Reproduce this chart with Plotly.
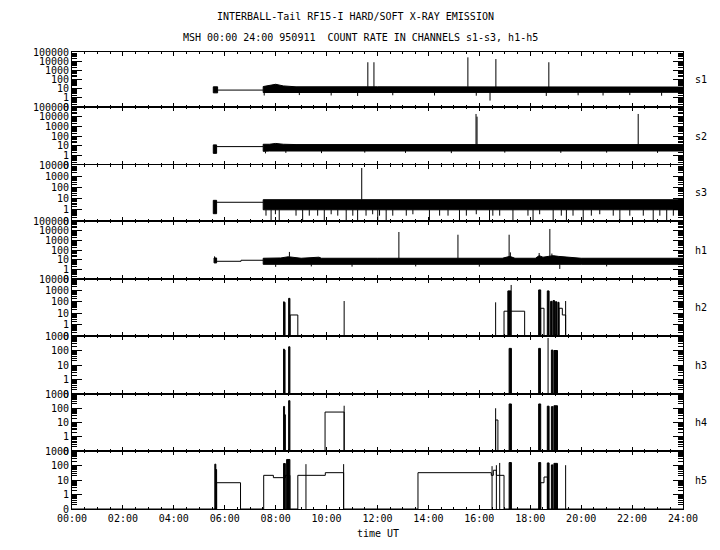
import math
import plotly.graph_objects as go
from plotly.subplots import make_subplots

FONT = "DejaVu Sans Mono"
ZERO = 0.1  # value drawn at the "0" tick

HOUR_TICKS = list(range(0, 25, 2))
HOUR_LABELS = [f"{h:02d}:00" for h in HOUR_TICKS]
CHANNELS = ["s1", "s2", "s3", "h1", "h2", "h3", "h4", "h5"]
YTOP = [100000, 100000, 10000, 100000, 10000, 1000, 1000, 1000]
ROW_HEIGHTS = [55, 58, 56, 58, 57, 58, 57, 58]

# ---------------- soft channels + h1 : noisy count rate ----------------
# s1
s1_block_t = [5.55, 5.72]
s1_block_v = [3.5, 16]
s1_gap_t = [5.72, 7.51]
s1_gap_v = [7, 7]
s1_band_t = [7.51, 7.75, 8.0, 8.3, 8.8, 12.0, 16.0, 20.0, 24.0]
s1_band_hi = [17, 22, 30, 20, 16, 16, 15, 16, 15]
s1_band_lo = [3.8, 3.6, 4.0, 3.9, 4.0, 4.0, 4.2, 4.0, 4.0]
s1_spike_t = [11.62, 11.86, 15.55, 16.65, 18.73]
s1_spike_v = [7600, 7600, 26000, 17000, 7600]
s1_dip_t = [7.55, 8.93, 10.18, 11.22, 12.60, 14.24, 15.88, 16.42, 18.63, 19.88, 20.86, 21.91, 23.16]
s1_dip_v = [1.8, 2.0, 1.8, 1.6, 1.9, 1.8, 1.7, 0.5, 1.6, 1.9, 1.8, 2.0, 1.7]

# s2
s2_block_t = [5.55, 5.68]
s2_block_v = [1.6, 12]
s2_gap_t = [5.68, 7.51]
s2_gap_v = [8, 8]
s2_band_t = [7.51, 7.75, 8.0, 8.3, 8.8, 12.0, 16.0, 20.0, 24.0]
s2_band_hi = [14, 14, 17, 14, 13, 13, 13, 13, 13]
s2_band_lo = [2.6, 2.8, 2.8, 2.8, 2.8, 2.9, 2.8, 2.9, 2.8]
s2_spike_t = [15.87, 15.91, 22.24]
s2_spike_v = [19000, 10000, 19000]
s2_dip_t = [7.6, 8.4, 9.8, 11.5, 13.1, 14.9, 17.0, 19.2, 21.0, 23.0]
s2_dip_v = [1.6, 1.8, 1.7, 1.9, 1.8, 1.7, 1.9, 1.8, 1.9, 1.8]

# s3
s3_block_t = [5.55, 5.68]
s3_block_v = [0.45, 7]
s3_gap_t = [5.68, 7.51]
s3_gap_v = [4.7, 4.7]
s3_band_t = [7.51, 12.0, 18.0, 24.0]
s3_band_hi = [8, 8, 8, 8]
s3_band_lo = [1.0, 1.0, 1.0, 1.0]
s3_spike_t = [11.38]
s3_spike_v = [5400]
s3_dip_t = [7.62, 7.82, 7.99, 8.14, 8.80, 9.06, 9.32, 9.65, 9.91, 10.18, 10.44, 10.77,
            11.03, 11.22, 11.55, 11.81, 12.01, 12.08, 12.34, 12.60, 13.13, 13.39, 14.04,
            14.44, 14.77, 15.22, 15.49, 15.88, 16.40, 16.53, 16.80, 17.32, 17.91, 18.11,
            18.37, 18.90, 19.22, 19.42, 19.68, 20.08, 20.40, 20.73, 21.26, 21.52, 21.91,
            22.44, 22.83, 23.09, 23.36, 23.62]
s3_dip_v = [0.3, 0.1, 0.4, 0.1, 0.3, 0.1, 0.3, 0.3, 0.1, 0.4, 0.3, 0.1,
            0.3, 0.1, 0.3, 0.4, 0.1, 0.3, 0.1, 0.3, 0.3, 0.4, 0.1,
            0.3, 0.3, 0.1, 0.3, 0.4, 0.1, 0.3, 0.3, 0.1, 0.3, 0.1,
            0.4, 0.1, 0.3, 0.1, 0.3, 0.1, 0.3, 0.4, 0.3, 0.1, 0.3,
            0.3, 0.1, 0.3, 0.1, 0.3]

# h1
h1_block_t = [5.58, 5.68]
h1_block_v = [4.6, 15]
h1_gap_t = [5.68, 6.64, 7.51]
h1_gap_v = [6.8, 8.7, 8.7]
h1_band_t = [7.51, 8.2, 8.5, 8.6, 9.0, 9.7, 9.8, 12.0, 16.9, 17.2, 17.4, 18.2, 18.35,
             18.5, 18.9, 19.1, 20.0, 24.0]
h1_band_hi = [14, 15, 20, 18, 14, 18, 14, 14, 14, 22, 14, 14, 26, 18, 26, 22, 14, 14]
h1_band_lo = [3.3, 3.3, 3.5, 3.3, 3.3, 3.3, 3.3, 3.3, 3.3, 3.5, 3.3, 3.3, 3.7, 3.5, 3.9, 3.3, 3.3, 3.3]
h1_spike_t = [5.60, 8.54, 12.84, 15.16, 17.17, 17.22, 18.35, 18.77, 18.85]
h1_spike_v = [22, 63, 7300, 3800, 3800, 57, 49, 15000, 43]
h1_dip_t = [8.0, 9.4, 11.0, 13.5, 16.0, 19.16, 21.0]
h1_dip_v = [1.8, 2.0, 1.9, 2.0, 1.9, 1.1, 2.0]

# ---------------- hard channels h2-h5 : sparse events ----------------
h2_step_t = [0, 8.57, 8.87, 16.97, 17.78, 18.41, 18.54, 19.13, 19.26, 19.39, 24]
h2_step_v = [ZERO, 7, ZERO, 15, ZERO, 27, ZERO, 27, 7, ZERO, ZERO]
h2_bar_t0 = [8.31, 8.36, 8.51, 17.12, 18.33, 18.67, 18.80, 18.90, 18.98, 19.09]
h2_bar_t1 = [8.34, 8.38, 8.56, 17.24, 18.41, 18.74, 18.86, 18.95, 19.05, 19.13]
h2_bar_v = [100, 90, 200, 900, 1100, 900, 110, 130, 100, 90]
h2_line_t = [10.69, 16.64, 17.25, 19.39]
h2_line_v = [117, 90, 3000, 117]

h3_step_t = []
h3_step_v = []
h3_bar_t0 = [8.31, 8.36, 8.51, 17.17, 18.33, 18.83, 18.93]
h3_bar_t1 = [8.34, 8.38, 8.56, 17.26, 18.40, 18.89, 19.07]
h3_bar_v = [126, 110, 180, 140, 140, 107, 100]
h3_line_t = [18.70]
h3_line_v = [730]

h4_step_t = [0, 9.94, 10.69, 16.64, 16.73, 24]
h4_step_v = [ZERO, 54, ZERO, 15, ZERO, ZERO]
h4_bar_t0 = [8.31, 8.35, 8.51, 17.17, 18.33, 18.67, 18.83, 18.93]
h4_bar_t1 = [8.35, 8.38, 8.56, 17.26, 18.41, 18.74, 18.89, 19.07]
h4_bar_v = [134, 35, 340, 200, 200, 140, 130, 150]
h4_line_t = [10.69, 16.64]
h4_line_v = [150, 100]

h5_step_t = [0, 5.68, 6.62, 7.53, 7.91, 8.38, 8.56, 8.87, 9.95, 10.67, 13.59,
             16.47, 16.55, 16.67, 16.97, 18.41, 18.54, 18.68, 24]
h5_step_v = [ZERO, 6.5, ZERO, 21, 14.5, 21, ZERO, 21, 32, ZERO, 32,
             21, 47, 21, ZERO, 6.5, 16, ZERO, ZERO]
h5_bar_t0 = [5.61, 5.65, 8.31, 8.43, 17.17, 18.33, 18.67, 18.83, 18.93]
h5_bar_t1 = [5.65, 5.68, 8.38, 8.56, 17.26, 18.41, 18.74, 18.89, 19.07]
h5_bar_v = [124, 52, 137, 260, 160, 160, 150, 110, 140]
h5_line_t = [9.19, 10.67, 16.50, 16.67, 16.80, 19.39]
h5_line_v = [124, 124, 90, 105, 150, 105]

NOISY = {
    1: (s1_block_t, s1_block_v, s1_gap_t, s1_gap_v, s1_band_t, s1_band_hi, s1_band_lo,
        s1_spike_t, s1_spike_v, s1_dip_t, s1_dip_v),
    2: (s2_block_t, s2_block_v, s2_gap_t, s2_gap_v, s2_band_t, s2_band_hi, s2_band_lo,
        s2_spike_t, s2_spike_v, s2_dip_t, s2_dip_v),
    3: (s3_block_t, s3_block_v, s3_gap_t, s3_gap_v, s3_band_t, s3_band_hi, s3_band_lo,
        s3_spike_t, s3_spike_v, s3_dip_t, s3_dip_v),
    4: (h1_block_t, h1_block_v, h1_gap_t, h1_gap_v, h1_band_t, h1_band_hi, h1_band_lo,
        h1_spike_t, h1_spike_v, h1_dip_t, h1_dip_v),
}
SPARSE = {
    5: (h2_step_t, h2_step_v, h2_bar_t0, h2_bar_t1, h2_bar_v, h2_line_t, h2_line_v),
    6: (h3_step_t, h3_step_v, h3_bar_t0, h3_bar_t1, h3_bar_v, h3_line_t, h3_line_v),
    7: (h4_step_t, h4_step_v, h4_bar_t0, h4_bar_t1, h4_bar_v, h4_line_t, h4_line_v),
    8: (h5_step_t, h5_step_v, h5_bar_t0, h5_bar_t1, h5_bar_v, h5_line_t, h5_line_v),
}

BLACK = "#000000"
fig = make_subplots(rows=8, cols=1, shared_xaxes=True, vertical_spacing=0,
                    row_heights=ROW_HEIGHTS)


def line_tr(x, y, shape="linear"):
    return go.Scatter(x=x, y=y, mode="lines", line=dict(color=BLACK, width=1, shape=shape),
                      showlegend=False, hoverinfo="skip")


def poly_tr(x, y):
    return go.Scatter(x=x, y=y, mode="lines", fill="toself", fillcolor=BLACK,
                      line=dict(color=BLACK, width=1), showlegend=False, hoverinfo="skip")


def interp(tk, vk, t):
    for i in range(len(tk) - 1):
        if tk[i] <= t <= tk[i + 1]:
            return vk[i]
    return vk[-1]


for row, (bt, bv, gt, gv, nt, nhi, nlo, st, sv, dt, dv) in NOISY.items():
    fig.add_trace(poly_tr([bt[0], bt[0], bt[1], bt[1], bt[0]],
                          [bv[0], bv[1], bv[1], bv[0], bv[0]]), row=row, col=1)
    fig.add_trace(line_tr(gt, gv, "hv"), row=row, col=1)
    fig.add_trace(poly_tr(nt + nt[::-1] + [nt[0]], nhi + nlo[::-1] + [nhi[0]]), row=row, col=1)
    xs, ys = [], []
    for t, v in zip(st, sv):
        xs += [t, t, None]
        ys += [interp(nt, nhi, t), v, None]
    for t, v in zip(dt, dv):
        xs += [t, t, None]
        ys += [interp(nt, nlo, t), v, None]
    fig.add_trace(line_tr(xs, ys), row=row, col=1)

for row, (stt, stv, b0, b1, bv, lt, lv) in SPARSE.items():
    if stt:
        fig.add_trace(line_tr(stt, stv, "hv"), row=row, col=1)
    for t0, t1, v in zip(b0, b1, bv):
        fig.add_trace(poly_tr([t0, t0, t1, t1, t0], [ZERO, v, v, ZERO, ZERO]), row=row, col=1)
    xs, ys = [], []
    for t, v in zip(lt, lv):
        xs += [t, t, None]
        ys += [ZERO, v, None]
    fig.add_trace(line_tr(xs, ys), row=row, col=1)

tickfont = dict(family=FONT, size=10, color=BLACK)
for i, top in enumerate(YTOP, start=1):
    ndec = int(round(math.log10(top)))
    vals = [ZERO] + [10 ** k for k in range(0, ndec + 1)]
    texts = ["0"] + [str(10 ** k) for k in range(0, ndec + 1)]
    minor_vals = [m * 10 ** k for k in range(-1, ndec) for m in range(2, 10)]
    fig.update_yaxes(row=i, col=1, type="log", range=[-1, math.log10(top)],
                     tickmode="array", tickvals=vals, ticktext=texts,
                     ticks="inside", ticklen=10, tickwidth=1, tickcolor=BLACK,
                     showline=True, linecolor=BLACK, linewidth=1, mirror="ticks",
                     showgrid=False, zeroline=False, tickfont=tickfont, automargin=False,
                     minor=dict(tickmode="array", tickvals=minor_vals, ticks="inside",
                                ticklen=5, tickcolor=BLACK, showgrid=False))
    fig.update_xaxes(row=i, col=1, range=[0, 24], tickmode="array",
                     tickvals=HOUR_TICKS, ticktext=HOUR_LABELS,
                     ticks="inside", ticklen=4, tickwidth=1, tickcolor=BLACK,
                     showline=True, linecolor=BLACK, linewidth=1, mirror="ticks",
                     showgrid=False, zeroline=False, tickfont=tickfont, automargin=False,
                     minor=dict(tickmode="linear", tick0=0, dtick=0.5, ticks="inside",
                                ticklen=2, tickcolor=BLACK, showgrid=False))

# page body has an 8px margin: plot area spans x 72..683, y 52..509 of the window
W, H = 712, 542
ML, MR, MT, MB = 64, 37, 44, 41
PW, PH = W - ML - MR, H - MT - MB


def px_to_paper_x(px):
    return (px - 8 - ML) / PW


def px_to_paper_y(py):
    return (H - MB - (py - 8)) / PH


annotations = []
for i, name in enumerate(CHANNELS, start=1):
    yref = "y domain" if i == 1 else f"y{i} domain"
    annotations.append(dict(text=name, x=px_to_paper_x(701), xref="paper", y=0.5, yref=yref,
                            showarrow=False, xanchor="center", yanchor="middle",
                            font=dict(family=FONT, size=10, color=BLACK)))
annotations.append(dict(text="INTERBALL-Tail RF15-I HARD/SOFT X-RAY EMISSION",
                        x=px_to_paper_x(355), y=px_to_paper_y(16), xref="paper", yref="paper",
                        showarrow=False, xanchor="center", yanchor="middle",
                        font=dict(family=FONT, size=10, color=BLACK)))
annotations.append(dict(text="MSH 00:00 24:00 950911  COUNT RATE IN CHANNELS s1-s3, h1-h5",
                        x=px_to_paper_x(360), y=px_to_paper_y(37), xref="paper", yref="paper",
                        showarrow=False, xanchor="center", yanchor="middle",
                        font=dict(family=FONT, size=10, color=BLACK)))
annotations.append(dict(text="time UT", x=px_to_paper_x(378), y=px_to_paper_y(533),
                        xref="paper", yref="paper", showarrow=False,
                        xanchor="center", yanchor="middle",
                        font=dict(family=FONT, size=10, color=BLACK)))

fig.update_layout(width=W, height=H, margin=dict(l=ML, r=MR, t=MT, b=MB, pad=0),
                  template="none",
                  paper_bgcolor="white", plot_bgcolor="white", showlegend=False,
                  annotations=annotations)

fig.write_html("out.html")
